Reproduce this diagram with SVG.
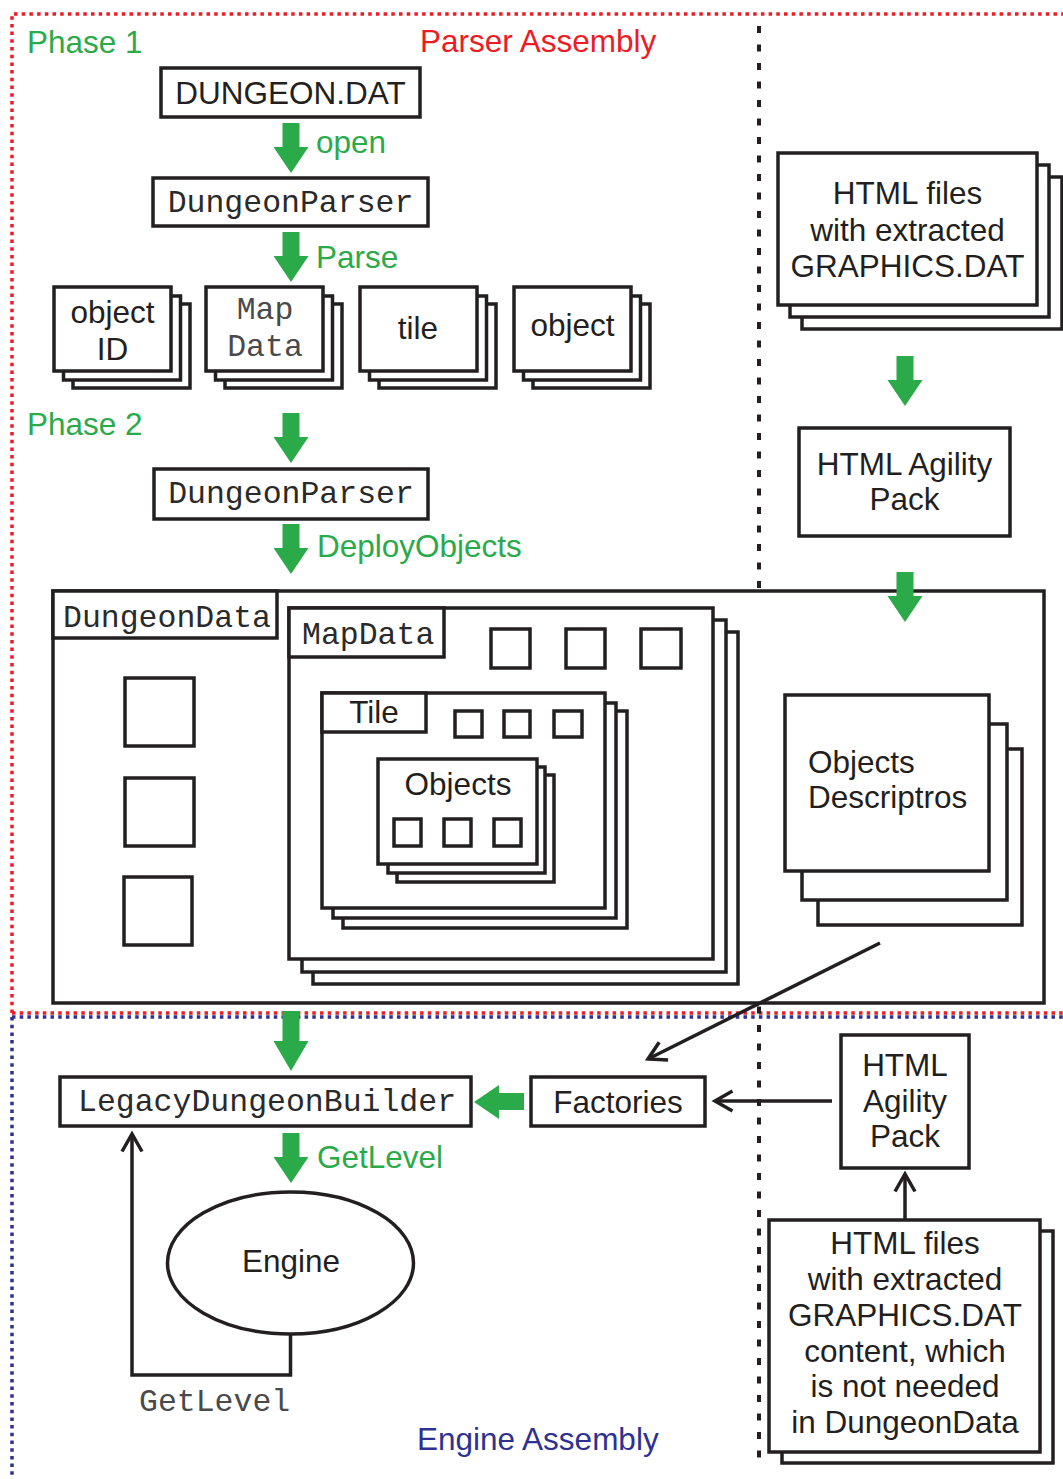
<svg xmlns="http://www.w3.org/2000/svg" width="1063" height="1479" viewBox="0 0 1063 1479">
<style>
.box{fill:#fff;stroke:#231f20;stroke-width:3.5}
.ln{fill:none;stroke:#231f20;stroke-width:3.5}
.t{font-family:"Liberation Sans",Arial,sans-serif;font-size:31.5px;fill:#231f20}
.m{font-family:"Liberation Mono","Courier New",monospace;font-size:31.5px;fill:#2a2a2a}
.gr{fill:#4a4a4a}
.g{fill:#2baa4a}
.c{text-anchor:middle}
.ga{fill:#2baa4a;stroke:none}
</style>
<defs>
<path id="darrow" d="M-8.5 0H8.5V24H17.5L0 50L-17.5 24H-8.5Z"/>
<marker id="open" markerUnits="userSpaceOnUse" markerWidth="26" markerHeight="26" viewBox="0 0 26 26" refX="21" refY="13" orient="auto" overflow="visible">
<path d="M3.5 3L21 13L3.5 23" fill="none" stroke="#231f20" stroke-width="3.5"/>
</marker>
</defs>
<rect width="1063" height="1479" fill="#fff"/>

<g id="regions">
<path d="M12 1013V14H1063M12 1013H1063" fill="none" stroke="#ed1c24" stroke-width="3.5" stroke-dasharray="3.5 4.2"/>
<path d="M12 1017H1063M12 1017V1479" fill="none" stroke="#2e3192" stroke-width="3.5" stroke-dasharray="3.5 4.2"/>
<path d="M759 26V1467" fill="none" stroke="#231f20" stroke-width="4" stroke-dasharray="7 11.5"/>
<text class="t g" x="27" y="53">Phase 1</text>
<text class="t" x="420" y="52" style="fill:#ed1c24">Parser Assembly</text>
<text class="t g" x="27" y="435">Phase 2</text>
<text class="t" x="417" y="1450" style="fill:#2e3192">Engine Assembly</text>
</g>

<g id="dungeondat">
<rect class="box" x="161" y="68" width="259" height="49"/>
<text class="t c" x="290.5" y="104">DUNGEON.DAT</text>
</g>
<g id="parser1">
<rect class="box" x="153" y="178" width="275" height="48"/>
<text class="m c" x="290.5" y="212">DungeonParser</text>
</g>

<g id="objectid">
<rect class="box" x="73" y="304" width="117" height="84"/>
<rect class="box" x="63.5" y="296" width="117" height="84"/>
<rect class="box" x="54" y="287" width="117" height="84"/>
<text class="t c" x="112.5" y="323">object</text>
<text class="t c" x="112.5" y="360">ID</text>
</g>
<g id="mapdata-file">
<rect class="box" x="225" y="304" width="117" height="84"/>
<rect class="box" x="215.5" y="296" width="117" height="84"/>
<rect class="box" x="206" y="287" width="117" height="84"/>
<text class="m c gr" x="265" y="319">Map</text>
<text class="m c gr" x="265" y="356">Data</text>
</g>
<g id="tile-file">
<rect class="box" x="379" y="304" width="117" height="84"/>
<rect class="box" x="369.5" y="296" width="117" height="84"/>
<rect class="box" x="360" y="287" width="117" height="84"/>
<text class="t c" x="418" y="339">tile</text>
</g>
<g id="object-file">
<rect class="box" x="533" y="304" width="117" height="84"/>
<rect class="box" x="523.5" y="296" width="117" height="84"/>
<rect class="box" x="514" y="287" width="117" height="84"/>
<text class="t c" x="572.5" y="336">object</text>
</g>

<g id="parser2">
<rect class="box" x="154" y="469" width="274" height="50"/>
<text class="m c" x="291" y="503">DungeonParser</text>
</g>

<g id="dungeondata">
<rect class="box" x="53" y="591" width="991" height="412"/>
<rect class="box" x="53" y="591" width="224" height="47"/>
<text class="m" x="63" y="627">DungeonData</text>
<rect class="box" x="125" y="678" width="69" height="68"/>
<rect class="box" x="125" y="778" width="69" height="68"/>
<rect class="box" x="124" y="877" width="68" height="68"/>
</g>

<g id="mapdata">
<rect class="box" x="313" y="632" width="425" height="352"/>
<rect class="box" x="302" y="620" width="424" height="352"/>
<rect class="box" x="289" y="608" width="424" height="351"/>
<rect class="box" x="289" y="608" width="155" height="49"/>
<text class="m" x="302" y="644">MapData</text>
<rect class="box" x="491" y="629" width="39" height="39"/>
<rect class="box" x="566" y="629" width="39" height="39"/>
<rect class="box" x="641" y="629" width="40" height="39"/>
</g>

<g id="tile">
<rect class="box" x="343" y="711" width="284" height="217"/>
<rect class="box" x="333" y="703" width="283" height="215"/>
<rect class="box" x="322" y="693" width="283" height="215"/>
<rect class="box" x="322" y="693" width="104" height="39"/>
<text class="t c" x="374" y="723">Tile</text>
<rect class="box" x="455" y="711" width="27" height="26"/>
<rect class="box" x="504" y="711" width="26" height="26"/>
<rect class="box" x="554" y="711" width="28" height="26"/>
</g>

<g id="objects">
<rect class="box" x="397" y="775" width="157" height="107"/>
<rect class="box" x="388" y="767" width="157" height="106"/>
<rect class="box" x="378" y="759" width="159" height="105"/>
<text class="t c" x="458" y="795">Objects</text>
<rect class="box" x="394" y="819" width="27" height="27"/>
<rect class="box" x="444" y="819" width="27" height="27"/>
<rect class="box" x="494" y="819" width="27" height="27"/>
</g>

<g id="html-files-top">
<rect class="box" x="802" y="177" width="260" height="152"/>
<rect class="box" x="790" y="165" width="259" height="152"/>
<rect class="box" x="778" y="153" width="259" height="152"/>
<text class="t c" x="907.5" y="204">HTML files</text>
<text class="t c" x="907.5" y="241">with extracted</text>
<text class="t c" x="907.5" y="277">GRAPHICS.DAT</text>
</g>

<g id="agility-top">
<rect class="box" x="799" y="428" width="211" height="108"/>
<text class="t c" x="904.5" y="475">HTML Agility</text>
<text class="t c" x="904.5" y="510">Pack</text>
</g>

<g id="descriptors">
<rect class="box" x="818" y="749" width="204" height="176"/>
<rect class="box" x="802" y="724" width="205" height="176"/>
<rect class="box" x="785" y="695" width="204" height="176"/>
<text class="t" x="808" y="773">Objects</text>
<text class="t" x="808" y="808">Descriptros</text>
</g>

<g id="builder">
<rect class="box" x="60" y="1077" width="411" height="49"/>
<text class="m" x="78" y="1111">LegacyDungeonBuilder</text>
</g>
<g id="factories">
<rect class="box" x="531" y="1077" width="174" height="49"/>
<text class="t c" x="618" y="1113">Factories</text>
</g>
<g id="agility-bottom">
<rect class="box" x="841" y="1035" width="128" height="133"/>
<text class="t c" x="905" y="1076">HTML</text>
<text class="t c" x="905" y="1112">Agility</text>
<text class="t c" x="905" y="1147">Pack</text>
</g>
<g id="html-files-bottom">
<rect class="box" x="782" y="1231" width="271" height="232"/>
<rect class="box" x="769" y="1220" width="271" height="232"/>
<text class="t c" x="905" y="1254">HTML files</text>
<text class="t c" x="905" y="1290">with extracted</text>
<text class="t c" x="905" y="1326">GRAPHICS.DAT</text>
<text class="t c" x="905" y="1362">content, which</text>
<text class="t c" x="905" y="1397">is not needed</text>
<text class="t c" x="905" y="1433">in DungeonData</text>
</g>
<g id="engine">
<ellipse class="box" cx="290.5" cy="1263" rx="123" ry="71"/>
<text class="t c" x="291" y="1272">Engine</text>
</g>

<g id="connectors">
<use href="#darrow" class="ga" x="291" y="123"/>
<text class="t g" x="316" y="153">open</text>
<use href="#darrow" class="ga" x="291" y="232"/>
<text class="t g" x="316" y="268">Parse</text>
<use href="#darrow" class="ga" x="291" y="413"/>
<use href="#darrow" class="ga" x="291" y="524"/>
<text class="t g" x="317" y="557">DeployObjects</text>
<use href="#darrow" class="ga" x="905" y="356"/>
<use href="#darrow" class="ga" x="905" y="572"/>
<path class="ga" d="M282.5 1011H299.5V1041H308.5L291 1071L273.5 1041H282.5Z"/>
<path class="ga" d="M524 1093V1110H499V1119L474 1102L499 1085V1093Z"/>
<use href="#darrow" class="ga" x="291" y="1133"/>
<text class="t g" x="317" y="1168">GetLevel</text>
<path class="ln" d="M880 943L648 1059" marker-end="url(#open)"/>
<path class="ln" d="M832 1101H715" marker-end="url(#open)"/>
<path class="ln" d="M905 1220V1174" marker-end="url(#open)"/>
<path class="ln" d="M290.5 1334V1375H132V1134" marker-end="url(#open)"/>
<text class="m gr" x="139" y="1411">GetLevel</text>
</g>
</svg>
